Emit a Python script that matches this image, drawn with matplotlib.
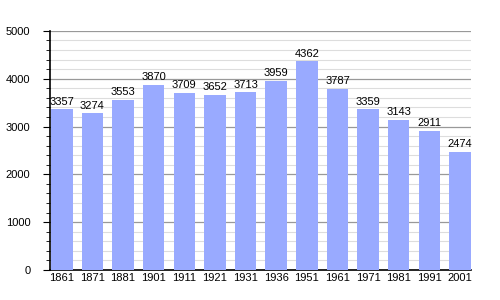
import matplotlib.pyplot as plt
from matplotlib.ticker import MultipleLocator

years = ['1861', '1871', '1881', '1901', '1911', '1921', '1931', '1936',
         '1951', '1961', '1971', '1981', '1991', '2001']
population = [3357, 3274, 3553, 3870, 3709, 3652, 3713, 3959,
              4362, 3787, 3359, 3143, 2911, 2474]

plt.rcParams['font.family'] = ['Liberation Sans', 'DejaVu Sans']

fig = plt.figure(figsize=(5, 3), dpi=100)
ax = fig.add_axes([0.1, 0.1, 0.842, 0.797])

x = range(len(years))
bars = ax.bar(x, population, width=0.7, color='#99aaff', zorder=3)
for xi, v in zip(x, population):
    ax.text(xi, v + 60, str(v), ha='center', va='bottom', fontsize=8, zorder=4)

ax.set_xlim(-0.385, 13.36)
ax.set_ylim(0, 5000)
ax.set_xticks(list(x))
ax.set_xticklabels(years)
ax.yaxis.set_major_locator(MultipleLocator(1000))
ax.yaxis.set_minor_locator(MultipleLocator(200))
ax.grid(axis='y', which='major', color='#999999', lw=0.9, zorder=0)
ax.grid(axis='y', which='minor', color='#dddddd', lw=0.8, zorder=0)

for s in ['top', 'right']:
    ax.spines[s].set_visible(False)
ax.spines['left'].set_linewidth(1.2)
ax.spines['bottom'].set_linewidth(1.2)
ax.tick_params(axis='x', length=0, labelsize=8, pad=2)
ax.tick_params(axis='y', which='major', length=5, labelsize=8, pad=9)
ax.tick_params(axis='y', which='minor', length=3)

fig.savefig('out.png', dpi=100)
